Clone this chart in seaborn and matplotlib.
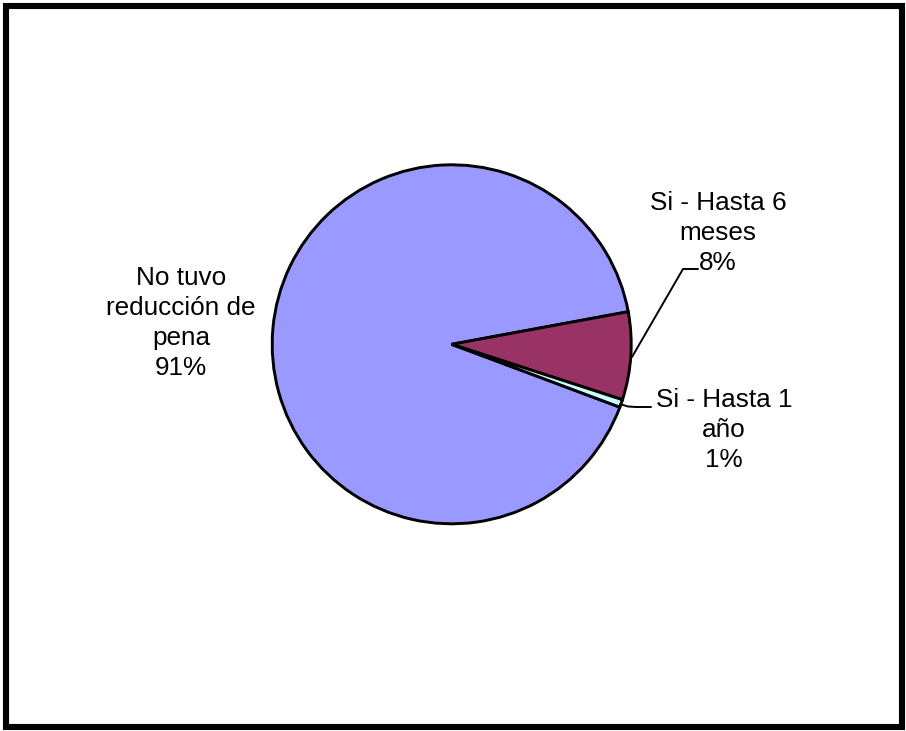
import matplotlib
matplotlib.use("Agg")
import matplotlib.pyplot as plt
import seaborn as sns
from matplotlib.patches import Rectangle

# Data
categories = ["No tuvo\nreducción de\npena", "Si - Hasta 6\nmeses", "Si - Hasta 1\naño"]
values = [91.4, 7.9, 0.7]
pct_labels = ["91%", "8%", "1%"]
colors = ["#9999FF", "#993366", "#CCFFFF"]

sns.set_theme(style="white")
plt.rcParams['font.family'] = ['Liberation Sans', 'DejaVu Sans']

W, H = 906, 731
fig = plt.figure(figsize=(W / 100, H / 100), dpi=100)
ax = fig.add_axes([0, 0, 1, 1])
ax.set_xlim(0, W)
ax.set_ylim(0, H)
ax.set_aspect("equal")
ax.axis("off")

def Y(y):
    return H - y

cx, cy, r = 451.7, 344.3, 179.5
ax.pie(values, colors=colors, startangle=-20.5, counterclock=False,
       center=(cx, Y(cy)), radius=r, frame=True,
       wedgeprops=dict(edgecolor="black", linewidth=2.1))
ax.set_xlim(0, W)
ax.set_ylim(0, H)
ax.axis("off")

# labels
label_pos = [(181, 323), (718, 233), (724, 430)]
for cat, pct, (x, y) in zip(categories, pct_labels, label_pos):
    ax.text(x, Y(y), f"{cat}\n{pct}", ha="center", va="center",
            multialignment="center", fontsize=18.8, color="black",
            linespacing=1.32)

# leader lines
ax.plot([632, 683, 698], [Y(357), Y(269), Y(269)], color="black", lw=1.4)
ax.plot([620, 628, 636, 651], [Y(404), Y(406.5), Y(407), Y(407)], color="black", lw=1.4)

# outer frame
ax.add_patch(Rectangle((6, Y(726.5)), 896, 720.5, fill=False,
                       edgecolor="black", linewidth=4.4, clip_on=False))

fig.savefig("out.png", dpi=100, facecolor="white")
